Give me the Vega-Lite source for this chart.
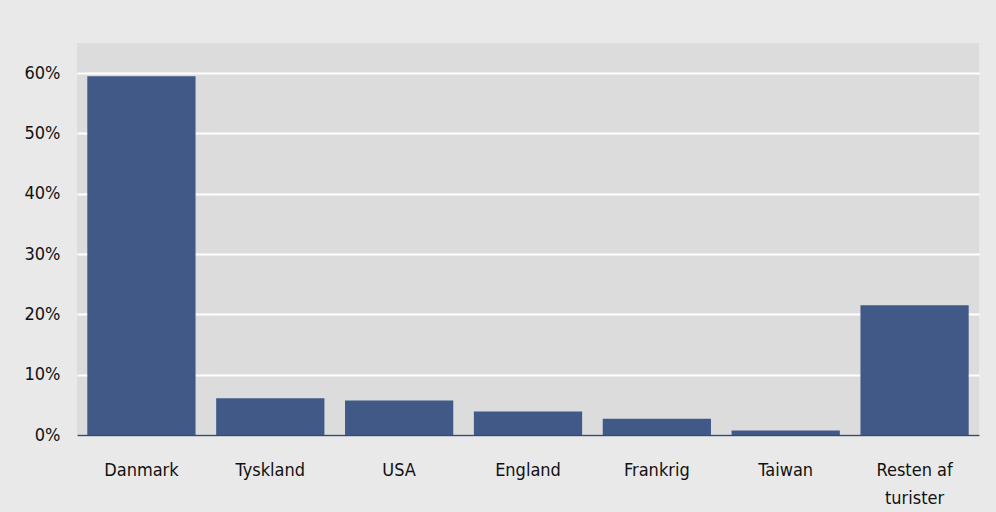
{
  "$schema": "https://vega.github.io/schema/vega-lite/v6.json",
  "width": 902,
  "height": 392,
  "autosize": {"type": "none"},
  "padding": {"left": 77, "top": 43, "right": 17, "bottom": 77},
  "background": "#e9e9e9",
  "config": {
    "view": {"fill": "#dcdcdc", "stroke": null},
    "font": "DejaVu Sans Condensed, Open Sans, sans-serif",
    "axis": {"labelFont": "DejaVu Sans Condensed, Open Sans, sans-serif", "labelFontSize": 18, "labelColor": "#111111"}
  },
  "data": {
    "values": [
      {"land": "Danmark", "andel": 0.595},
      {"land": "Tyskland", "andel": 0.061},
      {"land": "USA", "andel": 0.057},
      {"land": "England", "andel": 0.039},
      {"land": "Frankrig", "andel": 0.027},
      {"land": "Taiwan", "andel": 0.0075},
      {"land": "Resten af turister", "andel": 0.215}
    ]
  },
  "mark": {"type": "bar", "color": "#405987"},
  "encoding": {
    "x": {
      "field": "land",
      "type": "nominal",
      "sort": null,
      "scale": {"paddingInner": 0.16, "paddingOuter": 0.08},
      "axis": {
        "title": null,
        "labelAngle": 0,
        "ticks": false,
        "labelPadding": 26,
        "labelBaseline": "top",
        "labelLineHeight": 28,
        "labelExpr": "datum.value == 'Resten af turister' ? ['Resten af', 'turister'] : datum.value",
        "domainColor": "#3a4868",
        "domainWidth": 1.5
      }
    },
    "y": {
      "field": "andel",
      "type": "quantitative",
      "scale": {"domain": [0, 0.65], "nice": false},
      "axis": {
        "title": null,
        "values": [0, 0.1, 0.2, 0.3, 0.4, 0.5, 0.6],
        "format": ".0%",
        "ticks": false,
        "domain": false,
        "labelPadding": 17,
        "gridColor": "#ffffff",
        "gridWidth": 2,
        "gridOpacity": 1
      }
    }
  }
}
